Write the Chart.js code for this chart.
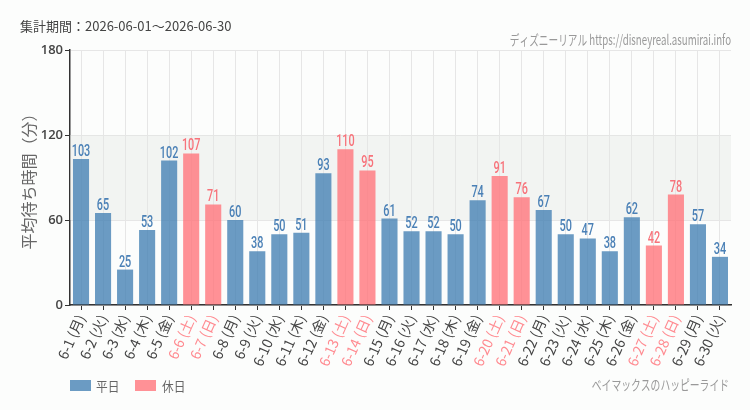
<!DOCTYPE html>
<html>
<head>
<meta charset="utf-8">
<script src="https://cdn.jsdelivr.net/npm/chart.js@4"></script>
<style>
  html, body { margin: 0; padding: 0; background: #fcfdfc; }
  #wrap { width: 750px; height: 410px; position: relative; }
</style>
</head>
<body>
<div id="wrap"><canvas id="waitChart" width="750" height="410"></canvas></div>
<script>
const days = ["6-1","6-2","6-3","6-4","6-5","6-6","6-7","6-8","6-9","6-10","6-11","6-12","6-13","6-14","6-15",
  "6-16","6-17","6-18","6-19","6-20","6-21","6-22","6-23","6-24","6-25","6-26","6-27","6-28","6-29","6-30"];
const weekdays = ["月","火","水","木","金","土","日","月","火","水","木","金","土","日","月",
  "火","水","木","金","土","日","月","火","水","木","金","土","日","月","火"];
const waitMin = [103,65,25,53,102,107,71,60,38,50,51,93,110,95,61,52,52,50,74,91,76,67,50,47,38,62,42,78,57,34];
const holiday = [0,0,0,0,0,1,1,0,0,0,0,0,1,1,0,0,0,0,0,1,1,0,0,0,0,0,1,1,0,0];
const yTicks = [0, 60, 120, 180];

const BLUE = "rgba(70,130,180,0.8)";
const PINK = "rgba(255,118,124,0.8)";
const BLUE_TXT = "#4a80b6";
const PINK_TXT = "#f7737b";

const labels = days.map((d, i) => `${d} (${weekdays[i]})`);
const weekdayData = waitMin.map((v, i) => holiday[i] ? null : v);
const holidayData = waitMin.map((v, i) => holiday[i] ? v : null);

function narrowText(ctx, text, x, y, font, sx) {
  ctx.save();
  ctx.translate(x, y);
  ctx.scale(sx, 1);
  ctx.font = font;
  ctx.fillText(text, 0, 0);
  ctx.restore();
}

// 60〜120 の帯、テキスト類、凡例
const extras = {
  id: "extras",
  beforeDatasetsDraw(chart) {
    const { ctx, chartArea, scales } = chart;
    const y1 = scales.y.getPixelForValue(120), y2 = scales.y.getPixelForValue(60);
    ctx.save();
    ctx.fillStyle = "rgba(228,230,228,0.4)";
    ctx.fillRect(chartArea.left, y1, chartArea.right - chartArea.left, y2 - y1);
    ctx.restore();
  },
  afterDatasetsDraw(chart) {
    const { ctx } = chart;
    ctx.save();
    ctx.textAlign = "center";
    ctx.textBaseline = "alphabetic";
    chart.data.datasets.forEach((ds, di) => {
      const meta = chart.getDatasetMeta(di);
      meta.data.forEach((bar, i) => {
        const v = ds.data[i];
        if (v === null) return;
        ctx.fillStyle = di === 0 ? BLUE_TXT : PINK_TXT;
        narrowText(ctx, String(v), bar.x, bar.y - 3, "500 17px Roboto", 0.64);
      });
    });
    ctx.restore();
  },
  afterDraw(chart) {
    const { ctx } = chart;
    ctx.save();
    ctx.textBaseline = "middle";
    ctx.fillStyle = "#444";
    ctx.font = "13px 'Noto Sans CJK JP'";
    ctx.textAlign = "left";
    ctx.fillText("集計期間：2026-06-01～2026-06-30", 20, 26);

    ctx.fillStyle = "#999";
    ctx.textAlign = "right";
    narrowText(ctx, "ディズニーリアル https://disneyreal.asumirai.info", 731, 40, "14px 'Noto Sans CJK JP'", 0.69);
    narrowText(ctx, "ベイマックスのハッピーライド", 729, 385, "14px 'Noto Sans CJK JP'", 0.7);

    // 凡例
    ctx.textAlign = "left";
    ctx.fillStyle = BLUE;
    ctx.fillRect(70, 380, 21, 11);
    ctx.fillStyle = "#666";
    narrowText(ctx, "平日", 96, 386, "13px 'Noto Sans CJK JP'", 0.9);
    ctx.fillStyle = PINK;
    ctx.fillRect(135, 380, 21, 11);
    ctx.fillStyle = "#666";
    narrowText(ctx, "休日", 162, 386, "13px 'Noto Sans CJK JP'", 0.9);
    ctx.restore();
  }
};

new Chart(document.getElementById("waitChart"), {
  type: "bar",
  data: {
    labels: labels,
    datasets: [
      { label: "平日", data: weekdayData, backgroundColor: BLUE, borderWidth: 0 },
      { label: "休日", data: holidayData, backgroundColor: PINK, borderWidth: 0 },
    ],
  },
  options: {
    responsive: false,
    animation: false,
    devicePixelRatio: 1,
    grouped: false,
    barPercentage: 0.73,
    categoryPercentage: 1,
    layout: { padding: { top: 50, right: 19, left: 19, bottom: 0 } },
    plugins: { legend: { display: false }, tooltip: { enabled: false } },
    scales: {
      x: {
        afterFit(scale) { scale.height = 105; },
        grid: { offset: false, color: "#e6e6e6", tickColor: "#333", tickLength: 5 },
        border: { color: "#333", width: 1.5 },
        ticks: {
          minRotation: 66, maxRotation: 66, autoSkip: false, padding: 2,
          color: (c) => holiday[c.index] ? "#ff8a90" : "#444",
          font: { family: "'Noto Sans CJK JP'", size: 14 },
        },
      },
      y: {
        min: 0, max: 180,
        afterFit(scale) { scale.width = 51; },
        afterBuildTicks(scale) { scale.ticks = yTicks.map(v => ({ value: v })); },
        grid: { color: "#e6e6e6", tickColor: "#333", tickLength: 5 },
        border: { color: "#333", width: 1.5 },
        ticks: { color: "#444", padding: 2, font: { family: "'Open Sans'", size: 13, weight: "600" } },
        title: {
          display: true, text: "平均待ち時間（分）", color: "#666",
          font: { family: "'Noto Sans CJK JP'", size: 16 }, padding: { top: 0, bottom: 4 },
        },
      },
    },
  },
  plugins: [extras],
});
</script>
</body>
</html>
